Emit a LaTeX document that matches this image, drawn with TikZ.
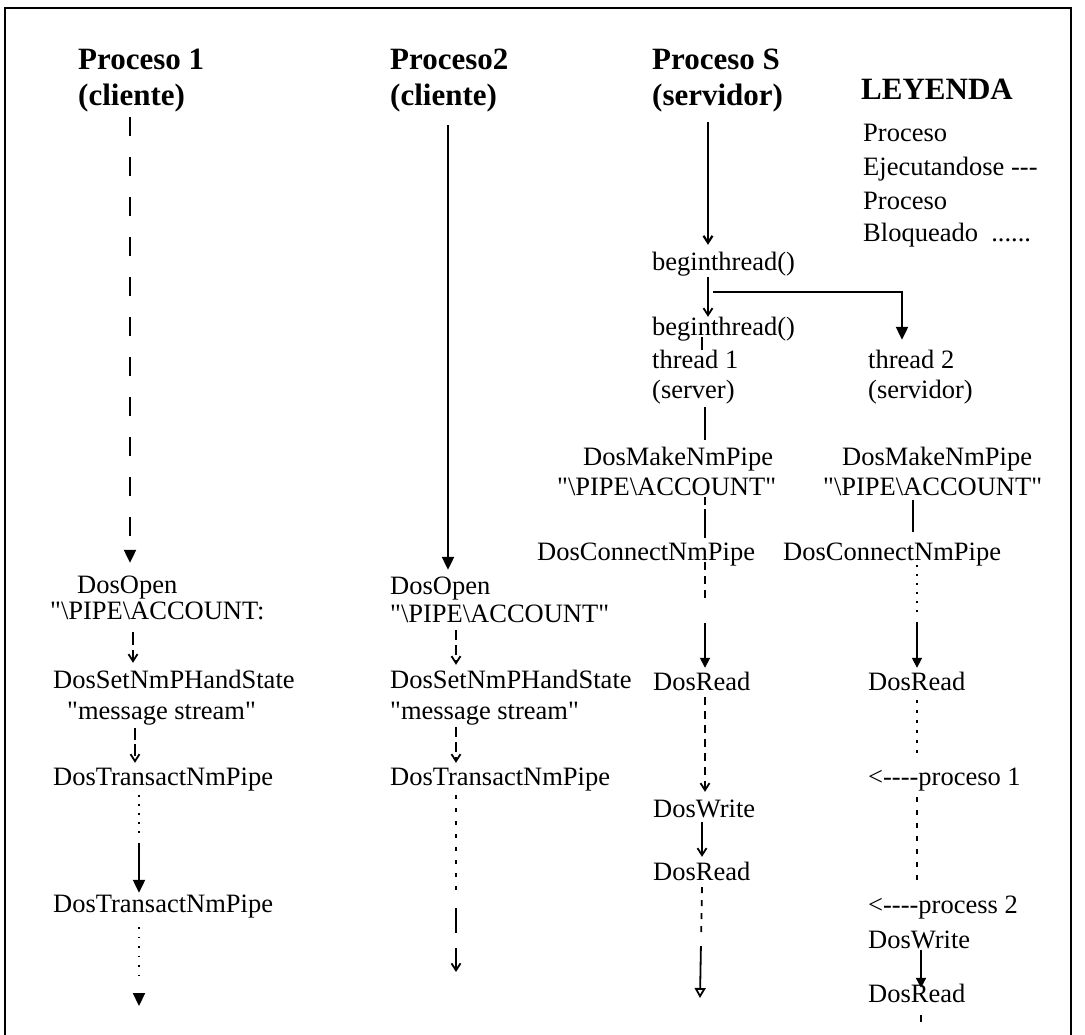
\documentclass[tikz,border=0pt]{standalone}
\usepackage{fontspec}
\setmainfont{Liberation Serif}[Ligatures=TeXOff]
\usetikzlibrary{arrows.meta}

\begin{document}
\begin{tikzpicture}[x=1pt,y=-1pt,
  txt/.style={anchor=base west, inner sep=0pt, text height=18pt, text depth=6pt,
              font=\fontsize{26.5}{30}\selectfont},
  hdr/.style={anchor=base west, inner sep=0pt, text height=22pt, text depth=8pt,
              font=\fontsize{31}{36}\selectfont\bfseries},
  flow/.style={line width=2.2pt},
  fine/.style={line width=1.8pt},
  bigtip/.style={-{Triangle[length=13pt,width=12pt]}},
  midtip/.style={-{Triangle[length=10pt,width=10pt]}},
  smalltip/.style={-{Straight Barb[length=7pt,width=9pt]}},
  opentip/.style={-{Triangle[open,length=10pt,width=11pt]}},
]
\useasboundingbox (0,0) rectangle (1085,1035);

% open frame
\draw[line width=2pt] (5,1035) -- (5,8) -- (1071,8) -- (1071,1035);

% ---- Proceso 1 (cliente)
\node[hdr] (h1a) at (78,70) {Proceso 1};
\node[hdr] (h1b) at (78,106) {(cliente)};
\node[txt] (o1) at (77,593) {DosOpen};
\node[txt] (a1) at (50,619) {"\textbackslash PIPE\textbackslash ACCOUNT:};
\node[txt] (s1) at (53,688) {DosSetNmPHandState};
\node[txt] (m1) at (67,719) {"message stream"};
\node[txt] (t1) at (53,785) {DosTransactNmPipe};
\node[txt] (t1b) at (53,912) {DosTransactNmPipe};

% ---- Proceso2 (cliente)
\node[hdr] (h2a) at (390,70) {Proceso2};
\node[hdr] (h2b) at (390,106) {(cliente)};
\node[txt] (o2) at (390,594) {DosOpen};
\node[txt] (a2) at (390,622) {"\textbackslash PIPE\textbackslash ACCOUNT"};
\node[txt] (s2) at (390,688) {DosSetNmPHandState};
\node[txt] (m2) at (390,719) {"message stream"};
\node[txt] (t2) at (390,785) {DosTransactNmPipe};

% ---- Proceso S (servidor), thread 1
\node[hdr] (h3a) at (652,70) {Proceso S};
\node[hdr] (h3b) at (652,106) {(servidor)};
\node[txt] (bt1) at (652,271) {beginthread()};
\node[txt] (bt2) at (652,335) {beginthread()};
\node[txt] (th1) at (652,368) {thread 1};
\node[txt] (sv1) at (652,398) {(server)};
\node[txt] (mk1) at (583,465) {DosMakeNmPipe};
\node[txt] (ac3) at (557,495) {"\textbackslash PIPE\textbackslash ACCOUNT"};
\node[txt] (cn1) at (537,560) {DosConnectNmPipe};
\node[txt] (rd1) at (653,690) {DosRead};
\node[txt] (wr1) at (653,817) {DosWrite};
\node[txt] (rd2) at (653,880) {DosRead};

% ---- legend and thread 2
\node[hdr] (lg) at (861,100) {LEYENDA};
\node[txt] (lg1) at (863,142) {Proceso};
\node[txt] (lg2) at (863,176) {Ejecutandose ---};
\node[txt] (lg3) at (863,210) {Proceso};
\node[txt] (lg4) at (863,242) {Bloqueado\ \ ......};
\node[txt] (th2) at (868,368) {thread 2};
\node[txt] (sv2) at (868,398) {(servidor)};
\node[txt] (mk2) at (842,465) {DosMakeNmPipe};
\node[txt] (ac4) at (823,495) {"\textbackslash PIPE\textbackslash ACCOUNT"};
\node[txt] (cn2) at (783,560) {DosConnectNmPipe};
\node[txt] (rd3) at (868,690) {DosRead};
\node[txt] (p1) at (868,785) {<----proceso 1};
\node[txt] (p2) at (868,913) {<----process 2};
\node[txt] (wr2) at (868,948) {DosWrite};
\node[txt] (rd4) at (868,1002) {DosRead};

% lanes of the time lines
\coordinate (L1a) at (130,0);
\coordinate (L1b) at (133,0);
\coordinate (L1c) at (135,0);
\coordinate (L1d) at (139,0);
\coordinate (L2a) at (448,0);
\coordinate (L2b) at (456,0);
\coordinate (L3a) at (708,0);
\coordinate (L3b) at (705,0);
\coordinate (L3c) at (702,0);
\coordinate (L4a) at (913,0);
\coordinate (L4b) at (917,0);
\coordinate (L4c) at (921,0);
% loose ends
\coordinate (e1) at (139,1006);
\coordinate (e2) at (456,972);
\coordinate (e3) at (700,998);
\coordinate (e4) at (921,1022);
\coordinate (br0) at (713,292);
\coordinate (br1) at (902,292);

% ---- Proceso 1 time line
\draw[flow, bigtip, dash pattern=on 19pt off 21pt, shorten <=3pt, shorten >=12pt]
  (h1b.south -| L1a) -- (o1.north -| L1a);
\draw[fine, smalltip, dash pattern=on 13pt off 5pt, shorten <=7pt, shorten >=7pt]
  (a1.south -| L1b) -- (s1.north -| L1b);
\draw[fine, smalltip, dash pattern=on 12pt off 4pt, shorten <=3pt, shorten >=4pt]
  (m1.south -| L1c) -- (t1.north -| L1c);
\draw[flow, bigtip, dash pattern=on 1.5pt off 7.5pt on 1.5pt off 7.5pt on 1.5pt off 7.5pt
  on 1.5pt off 7.5pt on 1.5pt off 10pt on 80pt, shorten <=4pt, shorten >=1pt]
  (t1.south -| L1d) -- (t1b.north -| L1d);
\draw[flow, bigtip, dash pattern=on 1.5pt off 8pt on 1.5pt off 8pt on 1.5pt off 8pt
  on 1.5pt off 8pt on 1.5pt off 8pt on 1.5pt off 48pt, shorten <=9pt]
  (t1b.south -| L1d) -- (e1);

% ---- Proceso2 time line
\draw[flow, bigtip, shorten <=11pt, shorten >=6pt] (h2b.south -| L2a) -- (o2.north -| L2a);
\draw[fine, smalltip, dash pattern=on 10pt off 5pt, shorten <=2pt, shorten >=5pt]
  (a2.south -| L2b) -- (s2.north -| L2b);
\draw[fine, smalltip, dash pattern=on 10pt off 5pt, shorten <=2pt, shorten >=4pt]
  (m2.south -| L2b) -- (t2.north -| L2b);
\draw[fine, smalltip, dash pattern=on 4pt off 9pt on 4pt off 9pt on 4pt off 9pt on 4pt off 9pt
  on 4pt off 9pt on 4pt off 9pt on 4pt off 9pt on 4pt off 18pt on 25pt off 15pt on 40pt,
  shorten <=4pt] (t2.south -| L2b) -- (e2);

% ---- Proceso S, main thread and thread 1
\draw[flow, smalltip, shorten <=8pt, shorten >=8pt] (h3b.south -| L3a) -- (bt1.north -| L3a);
\draw[fine, smalltip] (bt1.south -| L3a) -- (bt2.north -| L3a);
\draw[flow, bigtip, shorten >=10pt] (br0) -- (br1) -- (br1 |- th2.north);
\draw[fine, shorten <=-4pt] (bt2.south -| L3c) -- (th1.north -| L3c);
\draw[fine, shorten <=3pt, shorten >=7pt] (sv1.south -| L3b) -- (mk1.north -| L3b);
\draw[fine, dash pattern=on 8pt off 4pt on 40pt off 1pt, shorten <=-4pt, shorten >=4pt]
  (ac3.south -| L3b) -- (cn1.north -| L3b);
\draw[fine, midtip, dash pattern=on 8pt off 6pt on 8pt off 6pt on 8pt off 25pt on 60pt,
  shorten <=-4pt, shorten >=4pt] (cn1.south -| L3b) -- (rd1.north -| L3b);
\draw[fine, smalltip, dash pattern=on 8pt off 6pt, shorten <=1pt, shorten >=7pt]
  (rd1.south -| L3b) -- (wr1.north -| L3b);
\draw[fine, smalltip, shorten <=-1pt, shorten >=5pt] (wr1.south -| L3c) -- (rd2.north -| L3c);
\draw[fine, opentip, dash pattern=on 6pt off 7pt on 6pt off 7pt on 6pt off 7pt on 6pt off 14pt
  on 60pt, shorten <=1pt] (rd2.south -| L3c) -- (e3);

% ---- thread 2
\draw[fine, shorten <=-1pt, shorten >=10pt] (ac4.south -| L4a) -- (cn2.north -| L4a);
\draw[fine, midtip, dash pattern=on 2pt off 7pt on 2pt off 7pt on 2pt off 7pt on 2pt off 7pt
  on 2pt off 7pt on 2pt off 10pt on 60pt, shorten <=-1pt, shorten >=4pt]
  (cn2.south -| L4b) -- (rd3.north -| L4b);
\draw[fine, dash pattern=on 3pt off 7pt, shorten <=4pt, shorten >=7pt]
  (rd3.south -| L4b) -- (p1.north -| L4b);
\draw[fine, dash pattern=on 5pt off 8pt, shorten <=6pt, shorten >=13pt]
  (p1.south -| L4b) -- (p2.north -| L4b);
\draw[flow, midtip, shorten <=-4pt, shorten >=-4pt] (wr2.south -| L4c) -- (rd4.north -| L4c);
\draw[fine, shorten <=7pt] (rd4.south -| L4c) -- (e4);
\end{tikzpicture}
\end{document}
